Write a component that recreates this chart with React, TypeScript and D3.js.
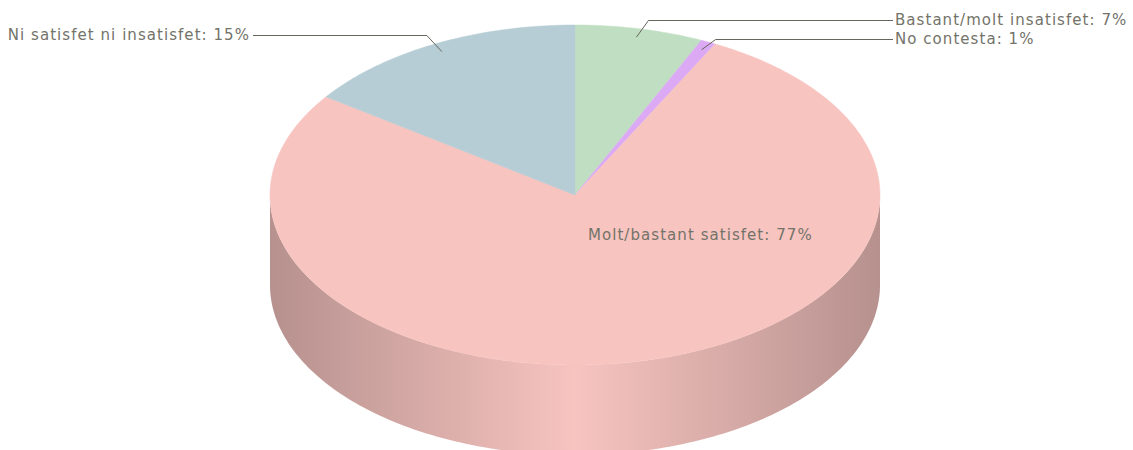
import React from "react";
import * as d3 from "d3";

const categories = [
  "Bastant/molt insatisfet",
  "No contesta",
  "Molt/bastant satisfet",
  "Ni satisfet ni insatisfet",
];
const values = [6.8, 0.8, 77.2, 15.2];
const colors = ["#c0dfc2", "#dcaaf5", "#f7c4c0", "#b6cdd5"];

const W = 1133;
const H = 450;
const cx = 575;
const cy = 195;
const rx = 305;
const ry = 170;
const depth = 90;

// label layout: side, line/text y (middle), text x, elbow offset
const labelLayout = [
  { side: "right", y: 20, x: 895, dx: 12 },
  { side: "right", y: 39, x: 895, dx: 14 },
  { side: "inside", y: 235, x: 588, dx: 0 },
  { side: "left", y: 35, x: 250, dx: -15 },
];

const pt = (a: number, k = 1, dy = 0): [number, number] => [
  cx + rx * k * Math.sin(a),
  cy - ry * k * Math.cos(a) + dy,
];

function arcPoints(a0: number, a1: number, dy = 0): [number, number][] {
  const n = Math.max(2, Math.ceil(((a1 - a0) / (2 * Math.PI)) * 360));
  return d3.range(n + 1).map((i) => pt(a0 + ((a1 - a0) * i) / n, 1, dy));
}

export default function App() {
  const pie = d3.pie<number>().sort(null).value((d) => d);
  const arcs = pie(values);
  const line = d3.line();

  const sides: JSX.Element[] = [];
  arcs.forEach((a, i) => {
    const s = Math.max(a.startAngle, Math.PI / 2);
    const e = Math.min(a.endAngle, (3 * Math.PI) / 2);
    if (e <= s) return;
    const top = arcPoints(s, e);
    const bot = arcPoints(s, e, depth).reverse();
    sides.push(
      <path
        key={"side" + i}
        d={line([...top, ...bot])! + "Z"}
        fill={`url(#grad${i})`}
      />
    );
  });

  const fmt = (v: number) => Math.round(v) + "%";
  const style = {
    fontFamily: "DejaVu Sans, Verdana, sans-serif",
    fontSize: 15,
    letterSpacing: "1.05px",
    fill: "#737369",
  };

  return (
    <svg
      width={W}
      height={H}
      style={{ position: "fixed", left: 0, top: 0, background: "#fff" }}
    >
      <defs>
        {colors.map((c, i) => {
          const dark = d3.color(c)!.darker(0.85).formatHex();
          return (
            <linearGradient
              key={i}
              id={`grad${i}`}
              gradientUnits="userSpaceOnUse"
              x1={cx - rx}
              x2={cx + rx}
              y1={0}
              y2={0}
            >
              <stop offset="0" stopColor={dark} />
              <stop offset="0.5" stopColor={c} />
              <stop offset="1" stopColor={dark} />
            </linearGradient>
          );
        })}
      </defs>
      {sides}
      {arcs.map((a, i) => {
        const pts = [[cx, cy] as [number, number], ...arcPoints(a.startAngle, a.endAngle)];
        return (
          <path
            key={"top" + i}
            d={line(pts)! + "Z"}
            fill={colors[i]}
            stroke={colors[i]}
            strokeWidth={0.5}
          />
        );
      })}
      {arcs.map((a, i) => {
        const L = labelLayout[i];
        const text = `${categories[i]}: ${fmt(values[i])}`;
        if (L.side === "inside") {
          return (
            <text key={"lab" + i} x={L.x} y={L.y} dy="0.35em" style={style}>
              {text}
            </text>
          );
        }
        const mid = (a.startAngle + a.endAngle) / 2;
        const end = pt(mid, 0.95);
        const ly = L.y + 0.5;
        const elbow: [number, number] = [end[0] + L.dx, ly];
        const lineEnd: [number, number] = [L.side === "right" ? L.x - 2 : L.x + 3, ly];
        return (
          <g key={"lab" + i}>
            <path
              d={line([end, elbow, lineEnd])!}
              fill="none"
              stroke="#66665e"
              strokeWidth={1}
            />
            <text
              x={L.x}
              y={L.y}
              dy="0.35em"
              textAnchor={L.side === "right" ? "start" : "end"}
              style={style}
            >
              {text}
            </text>
          </g>
        );
      })}
    </svg>
  );
}
